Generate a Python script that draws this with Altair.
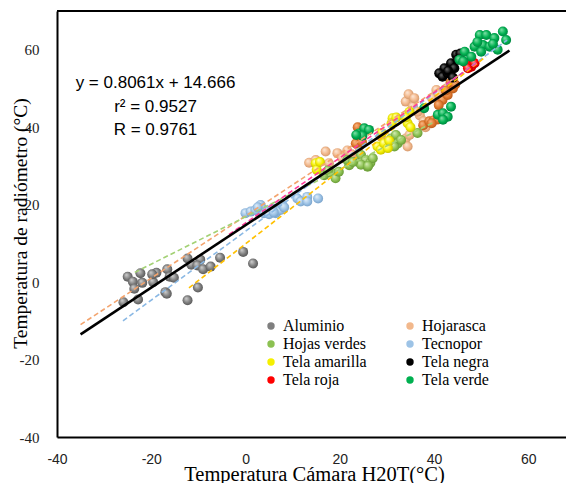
import altair as alt
import pandas as pd

# ---------------- data ----------------
categorias = ["Aluminio", "Hojarasca", "Hojas verdes", "Tecnopor",
              "Tela amarilla", "Tela negra", "Tela roja", "Tela verde"]

alu_x = [-25.0, -22.3, -23.9, -23.6, -21.9, -25.9, -22.8, -19.6, -18.9, -16.6, -16.1, -15.2, -17.0,
         -16.7, -12.3, -11.5, -9.6, -10.2, -9.0, -7.4, -5.4, -10.1, -12.3, -0.5, 1.6, -19.8]
alu_y = [1.4, 2.3, 0.1, -1.7, -0.2, -5.2, -4.5, 0.0, 2.4, 3.3, 1.4, 1.1, -2.6,
         -3.0, 6.1, 4.5, 5.8, 4.3, 3.3, 4.0, 6.3, -1.4, -4.7, 7.8, 4.8, 2.0]

hoj_x = [13.5, 14.9, 17.0, 19.5, 21.6, 24.1, 17.7, 23.8, 28.7, 34.0, 34.8, 34.4, 34.0, 35.5,
         34.6, 35.8, 37.0, 37.8, 39.6, 40.5, 41.0, 36.5, 22.5, 20.5, 30.5, 32.0, 38.2]
hoj_y = [30.8, 31.5, 33.7, 33.3, 34.0, 35.0, 30.7, 35.8, 37.6, 37.1, 38.0, 35.0, 46.6, 45.3,
         48.5, 47.5, 43.0, 41.5, 47.5, 49.6, 48.5, 44.0, 33.0, 32.0, 36.0, 37.5, 40.0]

hojo_x = [23.8, 23.4, 24.7, 37.7, 39.0, 40.0, 40.8, 41.8, 42.9, 44.0, 43.5, 42.5, 44.5, 41.0, 39.5]
hojo_y = [40.0, 35.8, 36.2, 40.5, 41.5, 41.8, 42.0, 47.0, 48.3, 50.0, 51.5, 49.5, 51.0, 45.7, 41.0]

hv_x = [16.7, 18.4, 19.1, 17.5, 22.0, 23.8, 24.5, 25.5, 25.9, 24.5, 26.5, 21.6, 27.0, 30.9,
        31.9, 32.3, 31.6, 33.0, 22.8, 26.0, 19.8, 36.5]
hv_y = [27.6, 28.1, 26.8, 28.8, 30.2, 31.1, 32.8, 31.5, 29.8, 30.3, 30.8, 31.5, 32.0, 37.1,
        38.0, 35.8, 35.0, 36.7, 31.0, 30.0, 28.5, 38.5]

tec_x = [0.0, 1.1, 2.1, 3.2, 3.5, 3.9, 4.6, 5.7, 6.4, 7.4, 7.8, 5.0, 6.0, 11.0, 11.7, 13.1,
         13.1, 15.4, 2.6, 8.2]
tec_y = [17.8, 18.2, 18.6, 19.9, 19.0, 17.8, 18.2, 19.0, 17.8, 18.6, 19.9, 17.5, 18.0, 21.6,
         20.8, 22.0, 20.8, 21.6, 19.3, 19.3]

ama_x = [14.9, 15.1, 15.8, 28.0, 28.7, 29.4, 30.2, 31.2, 31.0, 34.8, 34.4, 34.0, 28.9, 30.5, 32.0, 35.0]
ama_y = [30.7, 29.0, 31.0, 35.0, 34.2, 35.8, 34.6, 42.3, 41.0, 44.0, 41.0, 42.5, 38.5, 36.5, 42.5, 40.0]

neg_x = [44.7, 43.6, 44.3, 42.2, 41.1, 41.8, 42.9, 45.0, 43.0, 44.0, 45.6]
neg_y = [58.7, 56.5, 55.2, 55.2, 53.9, 53.0, 53.9, 57.4, 54.5, 52.8, 59.0]

roj_x = [46.8, 47.9, 47.2, 48.6]
roj_y = [56.5, 55.6, 55.2, 56.5]

ver_x = [24.1, 25.2, 26.2, 24.8, 23.5, 37.9, 40.8, 41.9, 42.9, 41.9, 43.6, 49.7, 51.1, 52.8,
         54.6, 55.3, 48.6, 50.4, 51.8, 50.0, 53.5, 46.5, 47.9, 45.4, 46.2, 49.2, 52.5]
ver_y = [38.4, 39.7, 39.3, 37.8, 38.0, 44.9, 43.2, 43.6, 42.7, 41.9, 45.3, 63.8, 63.8, 63.0,
         64.7, 62.5, 60.8, 61.2, 60.8, 59.5, 60.0, 59.5, 58.2, 57.4, 57.0, 62.0, 61.5]

# dashed trend lines (end points)
tend_serie = ["Hojarasca", "Hojas verdes", "Tecnopor", "Tela amarilla", "Tela roja"]
tend_x1 = [-35.0, -23.5, -26.0, -12.0, -3.5]
tend_y1 = [-11.0, 2.5, -10.0, -1.5, 12.3]
tend_x2 = [46.0, 40.0, 55.5, 51.0, 49.0]
tend_y2 = [54.0, 41.3, 62.5, 58.2, 56.5]

# overall fit line end points
global_x = [-35.0, 56.0]
global_y = [-13.5, 59.8]

ecuacion = ["y = 0.8061x + 14.666", "r² = 0.9527", "R = 0.9761"]

# ---------------- styles ----------------
orden = [("Aluminio", alu_x, alu_y), ("Hojarasca", hoj_x, hoj_y),
         ("Hojarasca oscura", hojo_x, hojo_y), ("Hojas verdes", hv_x, hv_y),
         ("Tecnopor", tec_x, tec_y), ("Tela amarilla", ama_x, ama_y),
         ("Tela negra", neg_x, neg_y), ("Tela roja", roj_x, roj_y),
         ("Tela verde", ver_x, ver_y)]

base = {"Aluminio": "#7f7f7f", "Hojarasca": "#f2b88c", "Hojarasca oscura": "#e0782e",
        "Hojas verdes": "#8cc152", "Tecnopor": "#9dc3e6", "Tela amarilla": "#f5f000",
        "Tela negra": "#000000", "Tela roja": "#ff0000", "Tela verde": "#00b050"}
claro = {"Aluminio": "#d0d0d0", "Hojarasca": "#fde8d8", "Hojarasca oscura": "#f8b886",
         "Hojas verdes": "#d2ebb3", "Tecnopor": "#e2eef9", "Tela amarilla": "#ffffc0",
         "Tela negra": "#6a6a6a", "Tela roja": "#ffa0a0", "Tela verde": "#80e0a8"}
oscuro = {"Aluminio": "#4a4a4a", "Hojarasca": "#c88c60", "Hojarasca oscura": "#a84f12",
          "Hojas verdes": "#5a8a2c", "Tecnopor": "#6a95bf", "Tela amarilla": "#b8b000",
          "Tela negra": "#000000", "Tela roja": "#a80000", "Tela verde": "#00753a"}
tend_color = {"Hojarasca": "#f3a46e", "Hojas verdes": "#a3d174", "Tecnopor": "#8ab8e4",
              "Tela amarilla": "#ffc000", "Tela roja": "#ff3b9a"}

W, H = 509, 426
FONT_SERIF = "Liberation Serif, Times New Roman, serif"
FONT_SANS = "Liberation Sans, Arial, sans-serif"

xenc = alt.X("x:Q",
             scale=alt.Scale(domain=[-40, 68], nice=False, zero=False),
             axis=alt.Axis(values=[-40, -20, 0, 20, 40, 60], title="Temperatura Cámara H20T(°C)",
                           labelExpr="'' + datum.value",
                           grid=False, ticks=False, domainColor="black", domainWidth=2,
                           labelFont=FONT_SANS, labelFontSize=14, labelColor="#222222",
                           labelPadding=15, labelFlush=False, labelOverlap=False,
                           titleFont=FONT_SERIF, titleFontSize=20.5, titleFontWeight="normal",
                           titleColor="black", titleX=257, titleY=37,
                           titleBaseline="middle", titleAlign="center"))
yenc = alt.Y("y:Q",
             scale=alt.Scale(domain=[-40, 70], nice=False, zero=False),
             axis=alt.Axis(values=[-40, -20, 0, 20, 40, 60], title="Temperatura de radiómetro (°C)",
                           labelExpr="'' + datum.value",
                           grid=False, ticks=False, domainColor="black", domainWidth=2,
                           labelFont=FONT_SERIF, labelFontSize=15, labelColor="#222222",
                           labelPadding=18, labelFlush=False, labelOverlap=False,
                           titleFont=FONT_SERIF, titleFontSize=19.5, titleFontWeight="normal",
                           titleColor="black", titleX=-37, titleY=212, titleAngle=-90,
                           titleBaseline="middle", titleAlign="center"))

# ---------------- layers ----------------
capas = []

# top frame line
borde = pd.DataFrame({"y": [70]})
capas.append(alt.Chart(borde).mark_rule(color="black", strokeWidth=2).encode(
    y=alt.Y("y:Q"), x=alt.value(0), x2=alt.value(W)))

# invisible layer used only for the legend
filas = []
for nombre, xs, ys in orden:
    if nombre in categorias:
        for a, b in zip(xs, ys):
            filas.append({"x": a, "y": b, "serie": nombre})
df_leg = pd.DataFrame(filas)
capas.append(alt.Chart(df_leg).mark_circle(opacity=0, size=10).encode(
    x=xenc, y=yenc,
    fill=alt.Fill("serie:N",
                  scale=alt.Scale(domain=categorias, range=[base[c] for c in categorias]),
                  legend=alt.Legend(title=None, orient="none", legendX=206, legendY=307,
                                    direction="horizontal",
                                    columns=2, columnPadding=35, rowPadding=2,
                                    labelFont=FONT_SERIF, labelFontSize=16, labelColor="black",
                                    symbolType="circle", symbolSize=55, symbolOpacity=1,
                                    symbolStrokeWidth=0, labelOffset=4, labelLimit=200))))

# sphere-like points
for nombre, xs, ys in orden:
    df = pd.DataFrame({"x": xs, "y": ys})
    grad = alt.RadialGradient(
        gradient="radial",
        stops=[alt.GradientStop(color=claro[nombre], offset=0),
               alt.GradientStop(color=base[nombre], offset=0.55),
               alt.GradientStop(color=oscuro[nombre], offset=1)],
        x1=0.35, y1=0.3, r1=0.02, x2=0.5, y2=0.5, r2=0.6)
    capas.append(alt.Chart(df).mark_circle(size=100, fill=grad, opacity=1).encode(x=xenc, y=yenc))

# dashed trend lines
tfilas = []
for s, a1, b1, a2, b2 in zip(tend_serie, tend_x1, tend_y1, tend_x2, tend_y2):
    tfilas.append({"x": a1, "y": b1, "serie": s})
    tfilas.append({"x": a2, "y": b2, "serie": s})
df_t = pd.DataFrame(tfilas)
capas.append(alt.Chart(df_t).mark_line(strokeDash=[5, 3], strokeWidth=1.6).encode(
    x=xenc, y=yenc,
    stroke=alt.Stroke("serie:N",
                      scale=alt.Scale(domain=tend_serie, range=[tend_color[s] for s in tend_serie]),
                      legend=None)))

# overall regression line
df_g = pd.DataFrame({"x": global_x, "y": global_y})
capas.append(alt.Chart(df_g).mark_line(color="black", strokeWidth=2.6).encode(x=xenc, y=yenc))

# equation annotation
capas.append(alt.Chart(pd.DataFrame({"a": [0]})).mark_text(
    text=ecuacion, lineHeight=23.5, align="center", baseline="middle",
    font=FONT_SANS, fontSize=17, color="black").encode(
    x=alt.datum(-19.1), y=alt.datum(51.3)))

chart = alt.layer(*capas).properties(
    width=W, height=H,
    padding={"left": 57, "top": 11, "right": 0, "bottom": 46},
    autosize=alt.AutoSizeParams(type="none"),
).configure_view(stroke=None).configure(background="white")

chart.save("out.html", embed_options={"renderer": "svg", "actions": False})
